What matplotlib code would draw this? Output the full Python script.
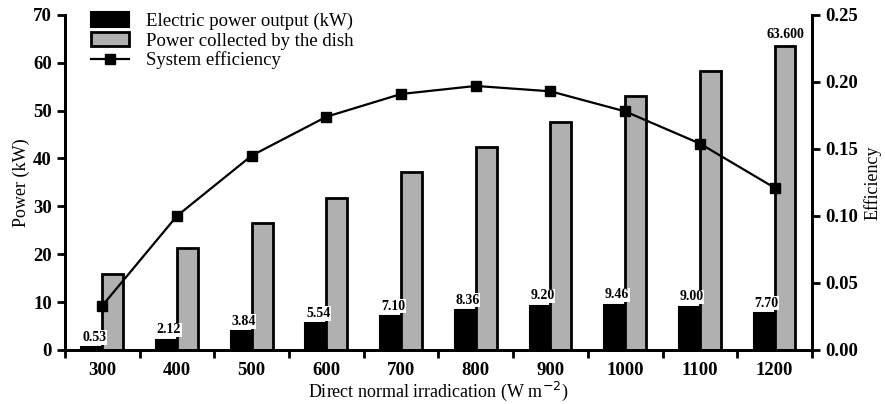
import matplotlib.pyplot as plt
import numpy as np

plt.rcParams['font.family'] = ['Liberation Serif', 'DejaVu Serif']

dni = [300, 400, 500, 600, 700, 800, 900, 1000, 1100, 1200]
electric = [0.53, 2.12, 3.84, 5.54, 7.10, 8.36, 9.20, 9.46, 9.00, 7.70]
collected = [15.9, 21.2, 26.5, 31.8, 37.1, 42.4, 47.7, 53.0, 58.3, 63.6]
efficiency = [0.033, 0.100, 0.145, 0.174, 0.191, 0.197, 0.193, 0.178, 0.154, 0.121]
elec_labels = ["0.53", "2.12", "3.84", "5.54", "7.10", "8.36", "9.20", "9.46", "9.00", "7.70"]

fig = plt.figure(figsize=(8.85, 4.04), dpi=100)
ax = fig.add_axes([0.0734, 0.134, 0.844, 0.829])
ax2 = ax.twinx()

x = np.arange(len(dni))
w = 0.28
b1 = ax.bar(x - w / 2, electric, w, color='black', edgecolor='black', lw=1.5,
            label='Electric power output (kW)', zorder=2)
b2 = ax.bar(x + w / 2, collected, w, color='#b0b0b0', edgecolor='black', lw=2,
            label='Power collected by the dish', zorder=2)

for i, v in enumerate(electric):
    ax.text(x[i] - w / 2 + 0.03, v + 0.7, elec_labels[i], ha='center', va='bottom',
            fontsize=10, fontweight='bold', zorder=5,
            bbox=dict(facecolor='white', edgecolor='none', pad=0.5))
ax.text(x[-1] + w / 2, collected[-1] + 1.0, "63.600", ha='center', va='bottom',
        fontsize=10, fontweight='bold')

ln, = ax2.plot(x, efficiency, color='black', lw=1.6, marker='s', ms=7.5,
               label='System efficiency', zorder=4)

ax.set_xlim(-0.5, 9.5)
ax.set_ylim(0, 70)
ax2.set_ylim(0, 0.25)
ax.set_yticks(np.arange(0, 71, 10))
ax2.set_yticks(np.arange(0, 0.26, 0.05))
ax2.set_yticklabels([f"{t:.2f}" for t in np.arange(0, 0.26, 0.05)])

ax.set_xticks(x)
ax.set_xticklabels([str(d) for d in dni])
ax.set_xticks(np.arange(-0.5, 10, 1), minor=True)
ax.tick_params(axis='x', which='major', length=0, pad=9, labelsize=13.5)
ax.tick_params(axis='x', which='minor', length=6, width=2, direction='out')
ax.tick_params(axis='y', length=6, width=2, labelsize=13.5)
ax2.tick_params(axis='y', length=6, width=2, labelsize=13.5)
for lab in ax.get_xticklabels() + ax.get_yticklabels() + ax2.get_yticklabels():
    lab.set_fontweight('bold')

for a in (ax, ax2):
    a.spines['top'].set_visible(False)
    for s in ('left', 'right', 'bottom'):
        a.spines[s].set_linewidth(2)

ax.set_xlabel('Direct normal irradication (W m$^{-2}$)', fontsize=13, labelpad=0)
ax.set_ylabel('Power (kW)', fontsize=13, labelpad=2)
ax2.set_ylabel('Efficiency', fontsize=13, labelpad=4)

ax.legend(handles=[b1, b2, ln], loc='upper left', bbox_to_anchor=(0.025, 1.03),
          frameon=False, fontsize=13.5, handlelength=2.0, handleheight=0.8,
          handletextpad=0.9, labelspacing=0.1, borderaxespad=0)

fig.savefig('out.png', dpi=100)
